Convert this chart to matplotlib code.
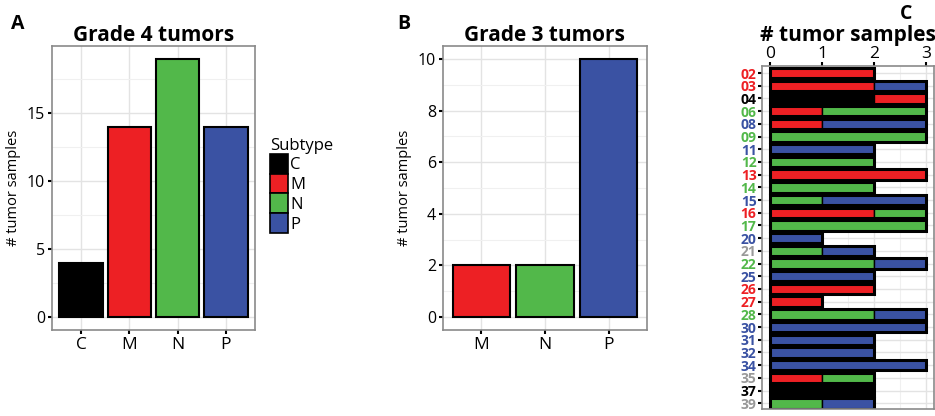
import numpy as np
import matplotlib.pyplot as plt
import matplotlib as mpl
from matplotlib.patches import Patch

mpl.rcParams['font.family'] = ['Open Sans', 'DejaVu Sans']

# colours for the subtypes
cores = {'C': '#000000', 'M': '#ED2024', 'N': '#52B84A', 'P': '#3A52A3', 'U': '#8C8C8C'}

# painel A - grade 4
g4_cat = ['C', 'M', 'N', 'P']
g4_val = [4, 14, 19, 14]

# painel B - grade 3
g3_cat = ['M', 'N', 'P']
g3_val = [2, 2, 10]

# painel C - amostras por paciente (segmentos empilhados)
pacientes = ['02', '03', '04', '06', '08', '09', '11', '12', '13', '14', '15', '16', '17',
             '20', '21', '22', '25', '26', '27', '28', '30', '31', '32', '34', '35', '37', '39']
rotulo_cor = ['M', 'M', 'C', 'N', 'P', 'N', 'P', 'N', 'M', 'N', 'P', 'M', 'N',
              'P', 'U', 'N', 'P', 'M', 'M', 'N', 'P', 'P', 'P', 'P', 'U', 'C', 'U']
segmentos = [
    [('M', 2)], [('M', 2), ('P', 1)], [('C', 2), ('M', 1)], [('M', 1), ('N', 2)],
    [('M', 1), ('P', 2)], [('N', 3)], [('P', 2)], [('N', 2)], [('M', 3)], [('N', 2)],
    [('N', 1), ('P', 2)], [('M', 2), ('N', 1)], [('N', 3)], [('P', 1)],
    [('N', 1), ('P', 1)], [('N', 2), ('P', 1)], [('P', 2)], [('M', 2)], [('M', 1)],
    [('N', 2), ('P', 1)], [('P', 3)], [('P', 2)], [('P', 2)], [('P', 3)],
    [('M', 1), ('N', 1)], [('C', 2)], [('N', 1), ('P', 1)],
]

fig = plt.figure(figsize=[9.35, 4.16], dpi=100)


def estilo(ax):
    ax.set_facecolor('white')
    for s in ax.spines.values():
        s.set_color('#8a8a8a')
        s.set_linewidth(1.2)
    ax.tick_params(length=3, width=1.5, color='black', labelsize=11.5, pad=2)
    ax.grid(which='major', color='#e3e3e3', lw=1.0)
    ax.grid(which='minor', color='#f0f0f0', lw=0.8)
    ax.set_axisbelow(True)


# ---- A
axA = fig.add_axes([0.0556, 0.2067, 0.217, 0.6827])
estilo(axA)
xA = np.arange(1, len(g4_cat) + 1)
axA.bar(xA, g4_val, width=0.9, color=[cores[c] for c in g4_cat], edgecolor='black', lw=1.5)
axA.set_xlim(0.4, 4.6)
axA.set_ylim(-0.95, 19.95)
axA.set_xticks(xA)
axA.set_xticklabels(g4_cat, fontsize=12.5)
axA.set_yticks([0, 5, 10, 15])
axA.set_yticks([2.5, 7.5, 12.5, 17.5], minor=True)
axA.tick_params(which='minor', length=0)
axA.grid(which='minor', axis='x', visible=False)
axA.set_ylabel('# tumor samples', fontsize=10.5, labelpad=4)
axA.set_title('Grade 4 tumors', fontsize=15, fontweight='bold', pad=3)
fig.text(0.012, 0.93, 'A', fontsize=14, fontweight='bold')

handles = [Patch(facecolor=cores[c], edgecolor='black', lw=1.2) for c in g4_cat]
leg = axA.legend(handles, g4_cat, title='Subtype', loc='upper left', bbox_to_anchor=(1.04, 0.70),
                 frameon=False, fontsize=12, title_fontsize=12, handlelength=1.1, handleheight=1.45,
                 handletextpad=0.15, labelspacing=0.0, borderaxespad=0)
leg._legend_box.align = 'left'

# ---- B
axB = fig.add_axes([0.4738, 0.2067, 0.218, 0.6827])
estilo(axB)
xB = np.arange(1, len(g3_cat) + 1)
axB.bar(xB, g3_val, width=0.9, color=[cores[c] for c in g3_cat], edgecolor='black', lw=1.5)
axB.set_xlim(0.4, 3.6)
axB.set_ylim(-0.5, 10.5)
axB.set_xticks(xB)
axB.set_xticklabels(g3_cat, fontsize=12.5)
axB.set_yticks([0, 2, 4, 6, 8, 10])
axB.set_yticks([1, 3, 5, 7, 9], minor=True)
axB.tick_params(which='minor', length=0)
axB.grid(which='minor', axis='x', visible=False)
axB.set_ylabel('# tumor samples', fontsize=10.5, labelpad=4)
axB.set_title('Grade 3 tumors', fontsize=15, fontweight='bold', pad=3)
fig.text(0.425, 0.93, 'B', fontsize=14, fontweight='bold')

# ---- C
axC = fig.add_axes([0.815, 0.0168, 0.184, 0.8245])
estilo(axC)
for i, segs in enumerate(segmentos):
    esq = 0
    for sub, n in segs:
        axC.barh(i, n, left=esq, height=0.82, color=cores[sub], edgecolor='black', lw=1.0)
        esq += n
    axC.barh(i, esq, height=0.82, color='none', edgecolor='black', lw=2.2)
axC.set_xlim(-0.15, 3.15)
axC.set_ylim(26.45, -0.55)
axC.xaxis.tick_top()
axC.set_xticks([0, 1, 2, 3])
axC.set_xticks([0.5, 1.5, 2.5], minor=True)
axC.tick_params(which='minor', length=0)
axC.grid(which='minor', axis='y', visible=False)
axC.set_yticks(np.arange(len(pacientes)))
axC.set_yticklabels(pacientes, fontsize=10, fontweight='bold')
for t, c in zip(axC.get_yticklabels(), rotulo_cor):
    t.set_color(cores[c] if c != 'U' else '#999999')
axC.tick_params(axis='x', labelsize=12.5, pad=0)
axC.tick_params(axis='y', pad=1)
axC.set_title('# tumor samples', fontsize=15, fontweight='bold', pad=2)
fig.text(0.962, 0.955, 'C', fontsize=14, fontweight='bold')

fig.savefig('out.png', dpi=100)
